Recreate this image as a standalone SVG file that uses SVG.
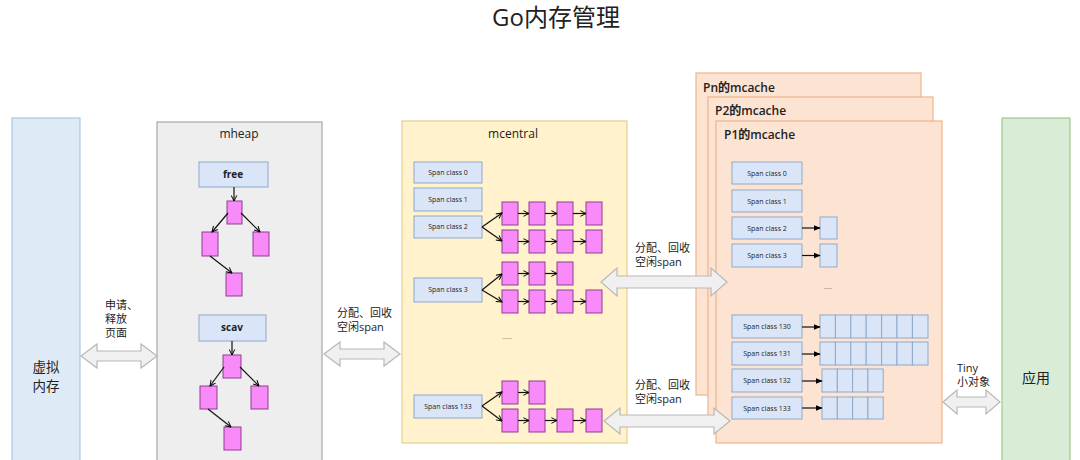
<svg xmlns="http://www.w3.org/2000/svg" width="1080" height="460" viewBox="0 0 1080 460">
<defs>
<marker id="v" viewBox="0 0 10 10" refX="9" refY="5" markerWidth="7" markerHeight="7" orient="auto" markerUnits="userSpaceOnUse">
<path d="M1,1 L9,5 L1,9" fill="none" stroke="#000" stroke-width="1.4"/>
</marker>
<marker id="tri" viewBox="0 0 10 10" refX="9" refY="5" markerWidth="7" markerHeight="7" orient="auto" markerUnits="userSpaceOnUse">
<path d="M0,1 L10,5 L0,9 Z" fill="#000"/>
</marker>
<style>
text{font-family:"Open Sans","Noto Sans CJK SC",sans-serif;fill:#222}
.vm{fill:#deebf7;stroke:#a9c6e3;stroke-width:1.2}
.heap{fill:#eeeeee;stroke:#a8a8a8;stroke-width:1.2}
.cen{fill:#fff2cc;stroke:#e3cf8a;stroke-width:1.2}
.mc{fill:#fde4d2;stroke:#f0b48a;stroke-width:1.2}
.app{fill:#d9ecd5;stroke:#9ccb8c;stroke-width:1.2}
.sc{fill:#dae6f7;stroke:#8fa8cc;stroke-width:1}
.pk{fill:#f98af9;stroke:#8e3d8e;stroke-width:1}
.cell{fill:#dae6f7;stroke:#8fa8cc;stroke-width:1}
.ln{stroke:#111;stroke-width:1.2;fill:none;marker-end:url(#v)}
.ln2{stroke:#111;stroke-width:1.2;fill:none;marker-end:url(#tri)}
.blk{fill:#f0f0f0;stroke:#b8b8b8;stroke-width:1.2}
.sct{font-size:7px;text-anchor:middle}
.lbl{font-size:11px}
.ttl{font-size:12px;font-weight:600}
</style>
</defs>
<rect width="1080" height="460" fill="#fff"/>
<text x="556" y="26" font-size="24" text-anchor="middle">Go内存管理</text>

<g id="vmem">
<rect class="vm" x="12" y="118" width="68" height="350"/>
<text x="46" y="372" font-size="13.5" text-anchor="middle">虚拟</text>
<text x="46" y="391" font-size="13.5" text-anchor="middle">内存</text>
</g>

<g id="mheap">
<rect class="heap" x="157" y="122" width="165" height="350"/>
<text x="239" y="138" font-size="12" text-anchor="middle">mheap</text>
<rect class="sc" x="199" y="162" width="69" height="25"/>
<text x="233" y="178" font-size="10" font-weight="bold" text-anchor="middle">free</text>
<rect class="pk" x="227" y="201" width="15" height="23"/>
<rect class="pk" x="202" y="232" width="16" height="24"/>
<rect class="pk" x="253" y="232" width="16" height="24"/>
<rect class="pk" x="226" y="273" width="16" height="23"/>
<rect class="sc" x="199" y="315" width="67" height="26"/>
<text x="232" y="331" font-size="10" font-weight="bold" text-anchor="middle">scav</text>
<rect class="pk" x="223" y="355" width="18" height="23"/>
<rect class="pk" x="200" y="386" width="17" height="23"/>
<rect class="pk" x="251" y="386" width="17" height="23"/>
<rect class="pk" x="224" y="427" width="17" height="23"/>
</g>

<g id="mcentral">
<rect class="cen" x="402" y="121" width="225" height="322"/>
<text x="513" y="138" font-size="12" text-anchor="middle">mcentral</text>
<rect class="sc" x="414" y="162" width="68" height="21"/><text class="sct" x="448" y="175">Span class 0</text>
<rect class="sc" x="414" y="188" width="68" height="23"/><text class="sct" x="448" y="202">Span class 1</text>
<rect class="sc" x="414" y="216" width="68" height="22"/><text class="sct" x="448" y="229">Span class 2</text>
<rect class="sc" x="414" y="278" width="68" height="24"/><text class="sct" x="448" y="292">Span class 3</text>
<rect class="sc" x="414" y="395" width="68" height="23"/><text class="sct" x="448" y="409">Span class 133</text>
<g>
<rect class="pk" x="502" y="202" width="16" height="23"/><rect class="pk" x="529" y="202" width="16" height="23"/><rect class="pk" x="557" y="202" width="16" height="23"/><rect class="pk" x="586" y="202" width="16" height="23"/>
<rect class="pk" x="502" y="230" width="16" height="23"/><rect class="pk" x="529" y="230" width="16" height="23"/><rect class="pk" x="557" y="230" width="16" height="23"/><rect class="pk" x="586" y="230" width="16" height="23"/>
<rect class="pk" x="502" y="262" width="16" height="23"/><rect class="pk" x="529" y="262" width="16" height="23"/><rect class="pk" x="557" y="262" width="16" height="23"/>
<rect class="pk" x="502" y="290" width="16" height="23"/><rect class="pk" x="529" y="290" width="16" height="23"/><rect class="pk" x="557" y="290" width="16" height="23"/><rect class="pk" x="586" y="290" width="16" height="23"/>
<rect class="pk" x="502" y="381" width="16" height="23"/><rect class="pk" x="529" y="381" width="16" height="23"/>
<rect class="pk" x="502" y="409" width="16" height="23"/><rect class="pk" x="529" y="409" width="16" height="23"/><rect class="pk" x="557" y="409" width="16" height="23"/><rect class="pk" x="586" y="409" width="16" height="23"/>
</g>
<text x="507" y="339" font-size="6" text-anchor="middle" fill="#666">......</text>
</g>

<g id="mcache-pn">
<rect class="mc" x="696" y="73" width="225" height="322"/>
<text class="ttl" x="703" y="92">Pn的mcache</text>
</g>
<g id="mcache-p2">
<rect class="mc" x="708" y="97" width="225" height="323"/>
<text class="ttl" x="715" y="115">P2的mcache</text>
</g>
<g id="mcache-p1">
<rect class="mc" x="716" y="121" width="226" height="322"/>
<text class="ttl" x="724" y="139">P1的mcache</text>
<rect class="sc" x="732" y="162" width="70" height="22"/><text class="sct" x="767" y="176">Span class 0</text>
<rect class="sc" x="732" y="190" width="70" height="22"/><text class="sct" x="767" y="204">Span class 1</text>
<rect class="sc" x="732" y="217" width="70" height="22"/><text class="sct" x="767" y="231">Span class 2</text>
<rect class="sc" x="732" y="244" width="70" height="23"/><text class="sct" x="767" y="258">Span class 3</text>
<rect class="sc" x="732" y="315" width="70" height="23"/><text class="sct" x="767" y="329">Span class 130</text>
<rect class="sc" x="732" y="342" width="70" height="23"/><text class="sct" x="767" y="356">Span class 131</text>
<rect class="sc" x="732" y="369" width="70" height="23"/><text class="sct" x="767" y="383">Span class 132</text>
<rect class="sc" x="732" y="397" width="70" height="22"/><text class="sct" x="767" y="411">Span class 133</text>
<rect class="cell" x="820" y="217" width="17" height="22"/>
<rect class="cell" x="820" y="244" width="17" height="23"/>
<g>
<rect class="cell" x="820" y="315" width="15.4" height="23"/><rect class="cell" x="835.4" y="315" width="15.4" height="23"/><rect class="cell" x="850.8" y="315" width="15.4" height="23"/><rect class="cell" x="866.2" y="315" width="15.4" height="23"/><rect class="cell" x="881.6" y="315" width="15.4" height="23"/><rect class="cell" x="897" y="315" width="15.4" height="23"/><rect class="cell" x="912.4" y="315" width="15.6" height="23"/>
<rect class="cell" x="820" y="342" width="15.4" height="23"/><rect class="cell" x="835.4" y="342" width="15.4" height="23"/><rect class="cell" x="850.8" y="342" width="15.4" height="23"/><rect class="cell" x="866.2" y="342" width="15.4" height="23"/><rect class="cell" x="881.6" y="342" width="15.4" height="23"/><rect class="cell" x="897" y="342" width="15.4" height="23"/><rect class="cell" x="912.4" y="342" width="15.6" height="23"/>
<rect class="cell" x="822" y="369" width="15.3" height="23"/><rect class="cell" x="837.3" y="369" width="15.3" height="23"/><rect class="cell" x="852.6" y="369" width="15.3" height="23"/><rect class="cell" x="867.9" y="369" width="15.3" height="23"/>
<rect class="cell" x="822" y="397" width="15.3" height="22"/><rect class="cell" x="837.3" y="397" width="15.3" height="22"/><rect class="cell" x="852.6" y="397" width="15.3" height="22"/><rect class="cell" x="867.9" y="397" width="15.3" height="22"/>
</g>
<text x="828" y="289" font-size="6" text-anchor="middle" fill="#666">.....</text>
</g>

<g id="app">
<rect class="app" x="1002" y="118" width="68" height="350"/>
<text x="1036" y="383" font-size="14" text-anchor="middle">应用</text>
</g>

<g id="labels">
<text class="lbl" x="105" y="309">申请、</text>
<text class="lbl" x="105" y="323">释放</text>
<text class="lbl" x="105" y="337">页面</text>
<text class="lbl" x="337" y="317">分配、回收</text>
<text class="lbl" x="337" y="331">空闲span</text>
<text class="lbl" x="635" y="252">分配、回收</text>
<text class="lbl" x="635" y="266">空闲span</text>
<text class="lbl" x="635" y="389">分配、回收</text>
<text class="lbl" x="635" y="403">空闲span</text>
<text class="lbl" x="957" y="372" font-size="10">Tiny</text>
<text class="lbl" x="957" y="386">小对象</text>
</g>

<g id="connectors">
<line class="ln" x1="234" y1="187" x2="234" y2="201"/>
<line class="ln" x1="228" y1="213" x2="212" y2="232"/>
<line class="ln" x1="241" y1="213" x2="260" y2="232"/>
<line class="ln" x1="210" y1="256" x2="232" y2="273"/>
<line class="ln" x1="232" y1="341" x2="232" y2="355"/>
<line class="ln" x1="224" y1="367" x2="210" y2="386"/>
<line class="ln" x1="240" y1="367" x2="259" y2="386"/>
<line class="ln" x1="208" y1="409" x2="231" y2="427"/>

<line class="ln" x1="482" y1="227" x2="502" y2="213"/>
<line class="ln" x1="482" y1="227" x2="502" y2="241"/>
<line class="ln" x1="482" y1="290" x2="502" y2="274"/>
<line class="ln" x1="482" y1="290" x2="502" y2="302"/>
<line class="ln" x1="482" y1="406" x2="502" y2="392"/>
<line class="ln" x1="482" y1="406" x2="502" y2="421"/>

<line class="ln" x1="518" y1="213.5" x2="529" y2="213.5"/><line class="ln" x1="545" y1="213.5" x2="557" y2="213.5"/><line class="ln" x1="573" y1="213.5" x2="586" y2="213.5"/>
<line class="ln" x1="518" y1="241.5" x2="529" y2="241.5"/><line class="ln" x1="545" y1="241.5" x2="557" y2="241.5"/><line class="ln" x1="573" y1="241.5" x2="586" y2="241.5"/>
<line class="ln" x1="518" y1="273.5" x2="529" y2="273.5"/><line class="ln" x1="545" y1="273.5" x2="557" y2="273.5"/>
<line class="ln" x1="518" y1="301.5" x2="529" y2="301.5"/><line class="ln" x1="545" y1="301.5" x2="557" y2="301.5"/><line class="ln" x1="573" y1="301.5" x2="586" y2="301.5"/>
<line class="ln" x1="518" y1="392.5" x2="529" y2="392.5"/>
<line class="ln" x1="518" y1="420.5" x2="529" y2="420.5"/><line class="ln" x1="545" y1="420.5" x2="557" y2="420.5"/><line class="ln" x1="573" y1="420.5" x2="586" y2="420.5"/>

<line class="ln2" x1="802" y1="228" x2="820" y2="228"/>
<line class="ln2" x1="802" y1="255.5" x2="820" y2="255.5"/>
<line class="ln2" x1="802" y1="327" x2="820" y2="327"/>
<line class="ln2" x1="802" y1="354" x2="820" y2="354"/>
<line class="ln2" x1="802" y1="381" x2="822" y2="381"/>
<line class="ln2" x1="802" y1="408" x2="822" y2="408"/>

<path class="blk" d="M81,356 L97,344 L97,351 L141,351 L141,344 L157,356 L141,368 L141,361 L97,361 L97,368 Z"/>
<path class="blk" d="M324,354 L340,342 L340,349 L384,349 L384,342 L400,354 L384,366 L384,359 L340,359 L340,366 Z"/>
<path class="blk" d="M601,282 L617,268 L617,276 L711,276 L711,268 L727,282 L711,296 L711,288 L617,288 L617,296 Z"/>
<path class="blk" d="M604,421 L620,408 L620,415 L714,415 L714,408 L730,421 L714,434 L714,427 L620,427 L620,434 Z"/>
<path class="blk" d="M943,402 L957,390 L957,397 L986,397 L986,390 L1000,402 L986,414 L986,407 L957,407 L957,414 Z"/>
</g>
</svg>
